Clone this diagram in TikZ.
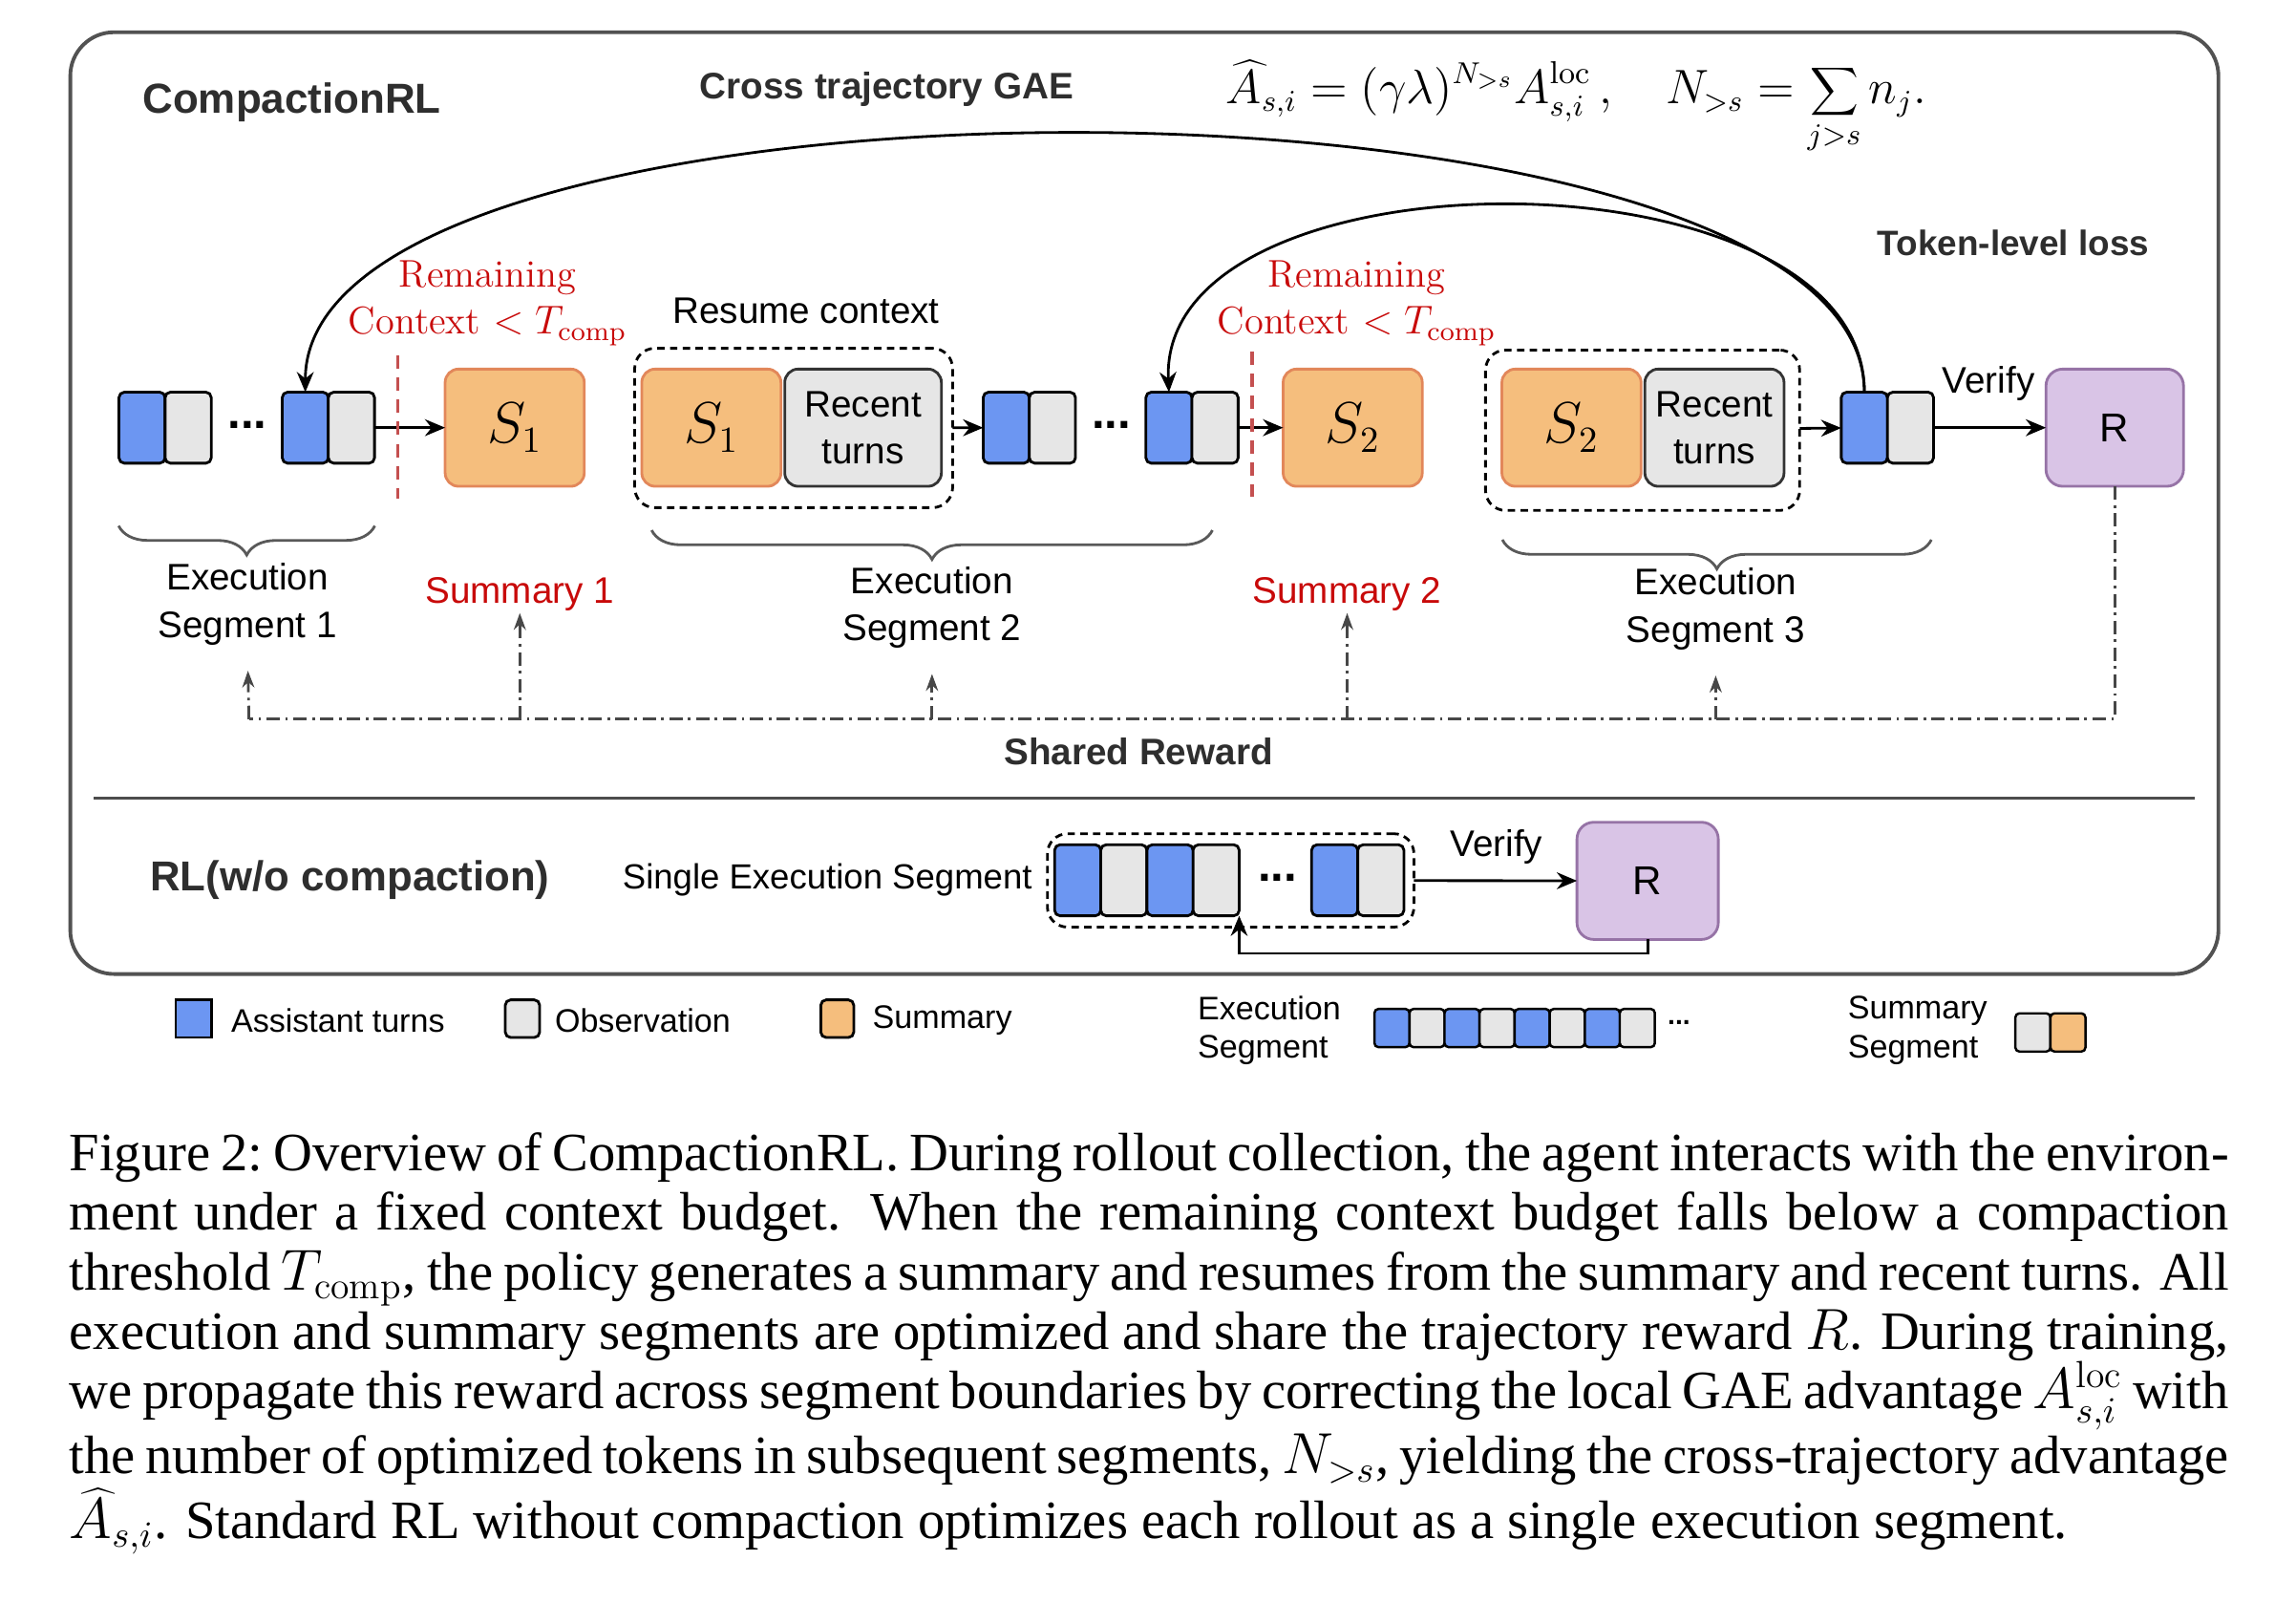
\documentclass[tikz,border=0pt]{standalone}
\usepackage{fontspec}
\setsansfont{Liberation Sans}
\newfontfamily\captionfont{Liberation Serif}
\usetikzlibrary{arrows.meta,positioning,decorations.pathreplacing}

\definecolor{asstblue}{RGB}{108,150,242}
\definecolor{obsgray}{RGB}{230,230,230}
\definecolor{sumfill}{RGB}{245,190,125}
\definecolor{sumedge}{RGB}{226,135,90}
\definecolor{rewfill}{RGB}{217,196,230}
\definecolor{rewedge}{RGB}{150,115,166}
\definecolor{condred}{RGB}{200,10,10}
\definecolor{cutred}{RGB}{196,80,80}

\begin{document}
\begin{tikzpicture}[
  x=0.15332mm, y=-0.15332mm,
  tok/.style={draw=black, line width=0.8pt, rounded corners=1.6pt, minimum width=4.83mm, minimum height=7.44mm, inner sep=0pt, outer sep=0pt},
  asst/.style={tok, fill=asstblue},
  obs/.style={tok, fill=obsgray},
  ltok/.style={tok, line width=0.7pt, rounded corners=1.2pt, minimum width=3.67mm, minimum height=4mm},
  sumbox/.style={draw=sumedge, fill=sumfill, line width=0.8pt, rounded corners=4pt, minimum width=14.57mm, minimum height=12.27mm, outer sep=0pt, font=\fontsize{16}{16}\selectfont},
  recent/.style={draw=black!80, fill=obsgray, line width=0.8pt, rounded corners=4pt, minimum height=12.27mm, outer sep=0pt, align=center, inner sep=0pt, font=\sffamily\fontsize{11}{14}\selectfont},
  rewbox/.style={draw=rewedge, fill=rewfill, line width=0.8pt, rounded corners=5pt, minimum height=12.27mm, outer sep=0pt, font=\sffamily\fontsize{12}{12}\selectfont},
  resume/.style={draw=black, line width=0.8pt, dash pattern=on 2.2pt off 1.6pt, rounded corners=6pt, outer sep=0pt},
  lbl/.style={font=\sffamily\fontsize{11}{14}\selectfont, align=center, inner sep=0pt},
  sumlbl/.style={lbl, text=condred},
  cond/.style={text=condred, font=\fontsize{11.5}{14}\selectfont, align=center, inner sep=0pt},
  title/.style={font=\sffamily\bfseries\fontsize{12.5}{15}\selectfont, text=black!82, inner sep=0pt},
  ellip/.style={font=\sffamily\bfseries\fontsize{14}{14}\selectfont, inner sep=0pt},
  leg/.style={font=\sffamily\fontsize{9.7}{11.5}\selectfont, align=left, inner sep=0pt},
  capt/.style={font=\captionfont\fontsize{16.1}{17.7}\selectfont, text width=226.1mm, align=justify, inner sep=0pt, anchor=north west},
  flow/.style={->, draw=black, line width=0.8pt},
  reward/.style={draw=black!72, line width=0.8pt, dash pattern=on 4pt off 1.6pt on 0.8pt off 1.6pt, >={Stealth[length=5pt,width=3.6pt]}},
  cut/.style={draw=cutred, line width=1pt, dash pattern=on 4pt off 2.6pt},
  segbrace/.style={decorate, decoration={brace, mirror, amplitude=8.7pt}, draw=black!65, line width=0.8pt},
  outerbox/.style={draw=black!68, line width=1.1pt, rounded corners=13pt},
  >={Stealth[length=6pt,width=5pt]}
]
  \useasboundingbox (0,0) rectangle (1568,1094);

  % outer frame
  \draw[outerbox] (48,22) rectangle (1515,665);
  \draw[draw=black!70, line width=1pt] (64,545) -- (1499,545);

  % headings
  \node[title, anchor=west] (crl) at (97,70) {CompactionRL};
  \node[title, font=\sffamily\bfseries\fontsize{11}{13}\selectfont] (gaet) at (605.5,61) {Cross trajectory GAE};
  \node[anchor=base west, inner sep=0pt] (gae) at (837,71) {\fontsize{13.5}{16}\selectfont$\displaystyle \widehat{A}_{s,i} = (\gamma\lambda)^{N_{>s}} A^{\mathrm{loc}}_{s,i}\,,\quad N_{>s} = \sum_{j>s} n_j.$};
  \node[title, font=\sffamily\bfseries\fontsize{10.5}{13}\selectfont] (tll) at (1375,166) {Token-level loss};

  % compaction rollout
  \node[asst] (a1) at (97,292) {};
  \node[obs, right=0pt of a1] (o1) {};
  \node[ellip] (d1) at (169,290) {...};
  \node[asst] (a2) at (208.5,292) {};
  \node[obs, right=0pt of a2] (o2) {};
  \node[sumbox] (s1) at (351.5,292) {$S_1$};

  \node[resume, minimum width=33.29mm, minimum height=16.68mm] (res1) at (542,292.2) {};
  \node[sumbox] (s1r) at (485.8,292) {$S_1$};
  \node[recent, minimum width=16.4mm, right=0.4mm of s1r] (rt1) {Recent\\turns};
  \node[lbl] (resl) at (550.5,212) {Resume context};

  \node[asst] (a3) at (687.2,292) {};
  \node[obs, right=0pt of a3] (o3) {};
  \node[ellip] (d2) at (759,290) {...};
  \node[asst] (a4) at (798.3,292) {};
  \node[obs, right=0pt of a4] (o4) {};
  \node[sumbox] (s2) at (923.8,292) {$S_2$};

  \node[resume, minimum width=32.89mm, minimum height=16.79mm] (res2) at (1121.75,293.75) {};
  \node[sumbox] (s2r) at (1073.2,292) {$S_2$};
  \node[recent, minimum width=14.57mm, right=0.4mm of s2r] (rt2) {Recent\\turns};

  \node[asst] (a5) at (1273.2,292) {};
  \node[obs, right=0pt of a5] (o5) {};
  \node[rewbox, minimum width=14.4mm] (rw) at (1444.2,292) {R};
  \node[lbl] (ver1) at (1358,262) {Verify};

  \draw[flow] (o2) -- (s1);
  \draw[flow] (res1) -- (a3);
  \draw[flow] (o4) -- (s2);
  \draw[flow] (res2) -- (a5);
  \draw[flow] (o5) -- (rw);

  % token-level loss arcs
  \draw[flow] (a5.north) .. controls +(0,-235) and +(0,-235) .. (a2.north);
  \draw[flow] (a5.north) .. controls +(0,-170) and +(-8,-170) .. (a4.north);

  % compaction thresholds
  \draw[cut] (271.7,242.5) -- (271.7,340.3);
  \draw[cut] (855,240) -- (855,339);
  \node[cond] (c1) at (333,207) {Remaining\\Context $<T_{\mathrm{comp}}$};
  \node[cond] (c2) at (926.5,207) {Remaining\\Context $<T_{\mathrm{comp}}$};

  % segments
  \draw[segbrace] (81,359) -- (256,359);
  \draw[segbrace] (445,362) -- (828,362);
  \draw[segbrace] (1026,368.5) -- (1319,368.5);
  \node[lbl] (seg1) at (169,412.5) {Execution\\Segment 1};
  \node[sumlbl] (sum1) at (355,405.5) {Summary 1};
  \node[lbl] (seg2) at (636.5,414.7) {Execution\\Segment 2};
  \node[sumlbl] (sum2) at (920,405.5) {Summary 2};
  \node[lbl] (seg3) at (1171.7,415.8) {Execution\\Segment 3};

  % shared reward
  \coordinate (rl) at (170,491);
  \draw[reward] (rw.south) |- (rl);
  \draw[reward,->,shorten >=7.5pt] (rl) -- (seg1.south);
  \draw[reward,->,shorten >=0.5pt] (sum1.south |- rl) -- (sum1.south);
  \draw[reward,->,shorten >=7.5pt] (seg2.south |- rl) -- (seg2.south);
  \draw[reward,->,shorten >=0.5pt] (sum2.south |- rl) -- (sum2.south);
  \draw[reward,->,shorten >=7.5pt] (seg3.south |- rl) -- (seg3.south);
  \node[title, font=\sffamily\bfseries\fontsize{11}{13}\selectfont] (shr) at (777.5,513) {Shared Reward};

  % rl without compaction
  \node[title, font=\sffamily\bfseries\fontsize{12.45}{15}\selectfont] (rlw) at (239,601) {RL(w/o compaction)};
  \node[lbl, font=\sffamily\fontsize{10.4}{13}\selectfont] (single) at (565,601) {Single Execution Segment};
  \node[resume, minimum width=38.38mm, minimum height=9.78mm] (resb) at (840.45,601.1) {};
  \node[asst] (ba1) at (736,601) {};
  \node[obs, right=0pt of ba1] (bo1) {};
  \node[asst, right=0pt of bo1] (ba2) {};
  \node[obs, right=0pt of ba2] (bo2) {};
  \node[ellip] (bd) at (872.4,599) {...};
  \node[asst] (ba3) at (911.5,601) {};
  \node[obs, right=0pt of ba3] (bo3) {};
  \node[rewbox, minimum width=14.8mm] (rw2) at (1125.2,601.4) {R};
  \node[lbl] (ver2) at (1022,578) {Verify};
  \draw[flow] (resb) -- (rw2);
  \draw[flow] (rw2.south) -- ++(0,9.5) -| (bo2.south east);

  % legend
  \node[tok, fill=asstblue, rounded corners=0pt, minimum width=3.74mm, minimum height=3.94mm] (ka) at (132.2,695.5) {};
  \node[leg, anchor=west] (kat) at (157.4,696.8) {Assistant turns};
  \node[tok, fill=obsgray, minimum width=3.6mm, minimum height=3.94mm] (ko) at (356.8,695.5) {};
  \node[leg, anchor=west] (kot) at (378.5,696.8) {Observation};
  \node[tok, fill=sumfill, minimum width=3.45mm, minimum height=3.94mm] (ks) at (571.8,695.5) {};
  \node[leg, anchor=west] (kst) at (595.5,696.8) {Summary};
  \node[leg, anchor=west] (ket) at (817.5,703.4) {Execution\\Segment};
  \node[ltok, fill=asstblue] (e1) at (950.6,701.9) {};
  \node[ltok, fill=obsgray, right=0pt of e1] (e2) {};
  \node[ltok, fill=asstblue, right=0pt of e2] (e3) {};
  \node[ltok, fill=obsgray, right=0pt of e3] (e4) {};
  \node[ltok, fill=asstblue, right=0pt of e4] (e5) {};
  \node[ltok, fill=obsgray, right=0pt of e5] (e6) {};
  \node[ltok, fill=asstblue, right=0pt of e6] (e7) {};
  \node[ltok, fill=obsgray, right=0pt of e7] (e8) {};
  \node[ellip, font=\sffamily\bfseries\fontsize{8}{8}\selectfont] (ed) at (1146.6,698) {...};
  \node[leg, anchor=west] (kss) at (1261.5,703.4) {Summary\\Segment};
  \node[ltok, fill=obsgray] (g1) at (1388.3,704.9) {};
  \node[ltok, fill=sumfill, right=0pt of g1] (g2) {};

  % caption
  \node[capt] (cap) at (47,773) {Figure 2:\ Overview of CompactionRL. During rollout collection, the agent interacts with the environ-\linebreak ment under a fixed context budget. When the remaining context budget falls below a compaction\linebreak threshold $T_{\mathrm{comp}}$, the policy generates a summary and resumes from the summary and recent turns. All\linebreak execution and summary segments are optimized and share the trajectory reward $R$. During training,\linebreak we propagate this reward across segment boundaries by correcting the local GAE advantage $A^{\mathrm{loc}}_{s,i}$ with\linebreak the number of optimized tokens in subsequent segments, $N_{>s}$, yielding the cross-trajectory advantage\linebreak $\widehat{A}_{s,i}$. Standard RL without compaction optimizes each rollout as a single execution segment.};
\end{tikzpicture}
\end{document}
